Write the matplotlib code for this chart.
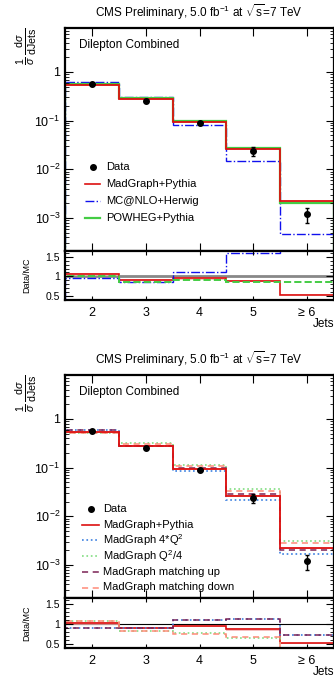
import numpy as np
import matplotlib
matplotlib.use('Agg')
import matplotlib.pyplot as plt
from matplotlib.ticker import FixedLocator, FuncFormatter, LogLocator, MultipleLocator

plt.rcParams['font.family'] = ['Liberation Sans', 'DejaVu Sans']
plt.rcParams['mathtext.fontset'] = 'custom'
plt.rcParams['mathtext.rm'] = 'Liberation Sans'
plt.rcParams['mathtext.it'] = 'Liberation Sans:italic'
plt.rcParams['mathtext.bf'] = 'Liberation Sans:bold'

# bins and labels
edges = [1.5, 2.5, 3.5, 4.5, 5.5, 6.5]
centers = [2, 3, 4, 5, 6]
xlabels = ['2', '3', '4', '5', '≥ 6']

# data
data = [0.566, 0.252, 0.089, 0.0240, 0.0012]
data_err = [0.01, 0.008, 0.004, 0.005, 0.0004]

# top panel generators
madgraph = [0.54, 0.278, 0.093, 0.0267, 0.0022]
mcatnlo = [0.61, 0.305, 0.080, 0.0146, 0.00046]
powheg = [0.557, 0.295, 0.099, 0.028, 0.0020]
r_madgraph = [1.05, 0.906, 0.95, 0.88, 0.53]
r_mcatnlo = [0.95, 0.855, 1.12, 1.59, 2.6]
r_powheg = [1.0, 0.855, 0.906, 0.846, 0.846]

# bottom panel systematics
q2up = [0.605, 0.282, 0.085, 0.0215, 0.00165]
q2down = [0.525, 0.32, 0.116, 0.0356, 0.00305]
match_up = [0.60, 0.285, 0.098, 0.029, 0.00199]
match_down = [0.52, 0.31, 0.106, 0.033, 0.0028]
r_madgraph2 = [1.017, 0.90, 0.94, 0.86, 0.51]
r_q2up = [0.906, 0.90, 1.094, 1.11, 0.71]
r_q2down = [1.07, 0.81, 0.76, 0.65, 0.385]
r_match_up = [0.906, 0.90, 1.094, 1.11, 0.71]
r_match_down = [1.08, 0.81, 0.75, 0.66, 0.39]

RED = '#dd1111'
BAND = '#f4b0b0'

W, H = 334, 684
fig = plt.figure(figsize=(W / 100, H / 100), dpi=100)


def box(l, t, r, b):
    return [l / W, 1 - b / H, (r - l) / W, (b - t) / H]


def style(ax):
    ax.tick_params(which='both', direction='in', top=True, right=True, labelsize=8)
    ax.tick_params(which='major', length=6, width=0.8)
    ax.tick_params(which='minor', length=3, width=0.6)
    for s in ax.spines.values():
        s.set_linewidth(1.6)
    ax.set_xlim(1.5, 6.5)
    ax.xaxis.set_major_locator(FixedLocator(centers))


def logfmt(v, pos):
    if abs(v - 1) < 1e-9:
        return '1'
    return r'$10^{%d}$' % int(round(np.log10(v)))


def band(ax, vals, frac):
    v = np.array(vals)
    ax.stairs(v * (1 + frac), edges, baseline=v * (1 - frac), fill=True,
              color=BAND, lw=0, alpha=0.8)


def legend(ax, top, entries, x0, x1, xt, y0, dy):
    # hand-placed legend, positions in figure pixels
    tr = fig.transFigure
    for i, (lab, kw) in enumerate(entries):
        y = 1 - (y0 + i * dy) / H
        if kw is None:
            ax.plot([(x0 + x1) / 2 / W], [y], 'o', color='black', ms=4,
                    transform=tr, clip_on=False)
        else:
            ax.plot([x0 / W, x1 / W], [y, y], transform=tr, clip_on=False, **kw)
        fig.text(xt / W, y, lab, ha='left', va='center', fontsize=8)


def panel(top, ratio_bottom, curves, ratios, entries, leg, ratio_line):
    main_bottom = top + 223
    ax = fig.add_axes(box(65, top, 334, main_bottom))
    rx = fig.add_axes(box(65, main_bottom, 334, ratio_bottom), sharex=ax)
    for a in (ax, rx):
        style(a)

    # main
    ax.set_yscale('log')
    ax.set_ylim(2.1e-4, 8)
    band(ax, madgraph, 0.04)
    for vals, kw in curves:
        ax.stairs(vals, edges, **kw)
    ax.errorbar(centers, data, yerr=data_err, fmt='o', color='black', ms=4,
                elinewidth=1, capsize=1.5, zorder=5)
    ax.yaxis.set_major_locator(LogLocator(base=10, numticks=10))
    ax.yaxis.set_minor_locator(LogLocator(base=10, subs=np.arange(2, 10), numticks=10))
    ax.yaxis.set_major_formatter(FuncFormatter(logfmt))
    ax.yaxis.set_minor_formatter(FuncFormatter(lambda v, p: ''))
    ax.tick_params(axis='y', labelsize=9)
    plt.setp(ax.get_xticklabels(), visible=False)
    ax.text(79 / W, 1 - (top + 17) / H, 'Dilepton Combined', transform=fig.transFigure,
            fontsize=8.5, va='center', ha='left')
    fig.text(199 / W, 1 - (top - 16) / H,
             r'CMS Preliminary, 5.0 fb$^{\mathregular{-1}}$ at $\sqrt{\mathregular{s}}$=7 TeV',
             fontsize=8.5, ha='center', va='center')
    legend(ax, top, entries, *leg)

    # ratio
    rx.set_ylim(0.39, 1.65)
    rx.axhline(1, **ratio_line)
    band(rx, ratios[0][0], 0.035)
    for vals, kw in ratios:
        rx.stairs(vals, edges, **kw)
    rx.yaxis.set_major_locator(FixedLocator([0.5, 1, 1.5]))
    rx.yaxis.set_minor_locator(MultipleLocator(0.1))
    rx.yaxis.set_major_formatter(FuncFormatter(lambda v, p: '%g' % v))
    rx.tick_params(axis='y', labelsize=7.5)
    rx.tick_params(axis='x', which='major', length=3, pad=5)
    rx.set_xticks(centers)
    rx.set_xticklabels(xlabels, fontsize=9)

    fig.text(27 / W, 1 - (top - 1) / H,
             r'$\frac{\mathregular{1}}{\sigma}\,\frac{\mathregular{d}\sigma}{\mathregular{dJets}}$',
             rotation=90, ha='center', va='top', fontsize=11)
    fig.text(27 / W, 1 - (main_bottom + ratio_bottom) / 2 / H, 'Data/MC', rotation=90,
             ha='center', va='center', fontsize=6.5)
    fig.text(313 / W, 1 - (ratio_bottom + 24) / H, 'Jets', ha='left', va='center', fontsize=8.5)


# panel 1
p1_curves = [
    (mcatnlo, dict(color='#1010ee', lw=1, ls='-.')),
    (powheg, dict(color='#44cc44', lw=1.6)),
    (madgraph, dict(color=RED, lw=1.3)),
]
p1_ratios = [
    (r_madgraph, dict(color=RED, lw=1.2)),
    (r_mcatnlo, dict(color='#1010ee', lw=1, ls='-.')),
    (r_powheg, dict(color='#44cc44', lw=1.4, ls='--')),
]
p1_entries = [
    ('Data', None),
    ('MadGraph+Pythia', dict(color=RED, lw=1.2)),
    ('MC@NLO+Herwig', dict(color='#1010ee', lw=1, ls='-.')),
    ('POWHEG+Pythia', dict(color='#44cc44', lw=1.6)),
]
panel(28, 300, p1_curves, p1_ratios, p1_entries, (85, 100, 106, 167, 17),
      dict(color='#888888', lw=2, zorder=1))

# panel 2
BLUE2 = '#3a7fe0'
GREEN2 = '#80dd80'
PURP = '#7a2255'
SALM = '#ff8a78'
p2_curves = [
    (q2up, dict(color=BLUE2, lw=1.2, ls=':')),
    (q2down, dict(color=GREEN2, lw=1.2, ls=':')),
    (match_up, dict(color=PURP, lw=1.1, ls=(0, (4, 3)))),
    (match_down, dict(color=SALM, lw=1.1, ls=(0, (4, 3)))),
    (madgraph, dict(color=RED, lw=1.3)),
]
p2_ratios = [
    (r_madgraph2, dict(color=RED, lw=1.2)),
    (r_q2up, dict(color=BLUE2, lw=1.2, ls=':')),
    (r_q2down, dict(color=GREEN2, lw=1.2, ls=':')),
    (r_match_up, dict(color=PURP, lw=1.1, ls=(0, (4, 3)))),
    (r_match_down, dict(color=SALM, lw=1.1, ls=(0, (4, 3)))),
]
p2_entries = [
    ('Data', None),
    ('MadGraph+Pythia', dict(color=RED, lw=1.2)),
    (r'MadGraph 4*Q$^{\mathregular{2}}$', dict(color=BLUE2, lw=1.2, ls=':')),
    (r'MadGraph Q$^{\mathregular{2}}$/4', dict(color=GREEN2, lw=1.2, ls=':')),
    ('MadGraph matching up', dict(color=PURP, lw=1.1, ls=(0, (4, 3)))),
    ('MadGraph matching down', dict(color=SALM, lw=1.1, ls=(0, (4, 3)))),
]
panel(375, 648, p2_curves, p2_ratios, p2_entries, (82, 99, 103, 509, 15.7),
      dict(color='black', lw=0.8, zorder=1))

fig.savefig('out.png', dpi=100)
